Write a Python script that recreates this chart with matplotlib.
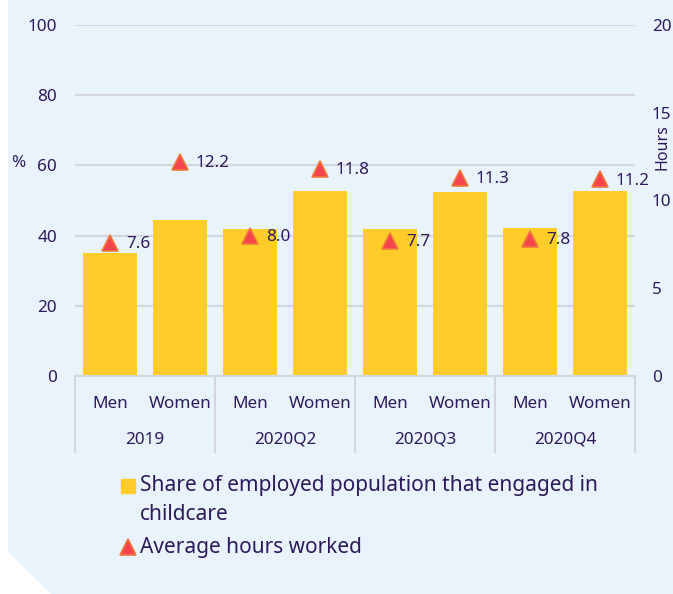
import matplotlib
matplotlib.use("Agg")
import matplotlib.pyplot as plt
from matplotlib.patches import Polygon
from matplotlib.lines import Line2D
import numpy as np

plt.rcParams['font.family'] = ['Noto Sans', 'DejaVu Sans']

periods = ["2019", "2020Q2", "2020Q3", "2020Q4"]
sexes = ["Men", "Women"]
share_childcare = [35.0, 44.5, 42.0, 52.8, 42.0, 52.3, 42.3, 52.6]
avg_hours = [7.6, 12.2, 8.0, 11.8, 7.7, 11.3, 7.8, 11.2]
left_ticks = [0, 20, 40, 60, 80, 100]
right_ticks = [0, 5, 10, 15, 20]
legend_labels = ["Share of employed population that engaged in\nchildcare", "Average hours worked"]

TXT = "#2B1A5C"
BAR = "#FFCC29"
TRI = "#F4444E"
TRI_EDGE = "#F0793A"
BG = "#E9F3FC"
GRID = "#D3D7DC"
FS = 12.3

W, H = 673, 594
fig = plt.figure(figsize=(W / 100, H / 100), dpi=100, facecolor="white")

# background panel with cut corner
bg = Polygon([(8 / W, 1), (1, 1), (1, 0), (51 / W, 0), (8 / W, 1 - 552 / H)],
             closed=True, transform=fig.transFigure, facecolor=BG, edgecolor="none", zorder=-10)
fig.patches.append(bg)

x0, x1 = 75 / W, 635 / W
y_top, y_bot = 1 - 25 / H, 1 - 376 / H
ax = fig.add_axes([x0, y_bot, x1 - x0, y_top - y_bot])
ax.set_facecolor("none")
n = len(share_childcare)
x = np.arange(n)
ax.bar(x, share_childcare, width=0.77, color=BAR, zorder=2)
ax.set_xlim(-0.5, n - 0.5)
ax.set_ylim(0, 100)
ax.set_yticks(left_ticks)
ax.yaxis.grid(True, color=GRID, lw=1.5, zorder=0)
ax.set_axisbelow(True)
for s in ["top", "right", "left"]:
    ax.spines[s].set_visible(False)
ax.spines["bottom"].set_color(GRID)
ax.spines["bottom"].set_linewidth(1.5)
ax.tick_params(axis="y", length=0, pad=13, labelsize=FS, labelcolor=TXT)
ax.set_xticks([])

ax2 = ax.twinx()
ax2.set_ylim(0, 20)
ax2.set_yticks(right_ticks)
for s in ax2.spines.values():
    s.set_visible(False)
ax2.tick_params(axis="y", length=0, pad=12, labelsize=FS, labelcolor=TXT)
ax2.plot(x, avg_hours, ls="none", marker="^", ms=11, mfc=TRI, mec=TRI_EDGE, mew=1.2, zorder=3)
for xi, v in zip(x, avg_hours):
    ax2.annotate(f"{v:.1f}", (xi, v), xytext=(11.5, -1), textcoords="offset points",
                 ha="left", va="center", fontsize=FS, color=TXT)

# category labels
trans = ax.get_xaxis_transform()
px = 1 / ((y_top - y_bot) * H)  # axes fraction per pixel
for i in range(n):
    ax.text(i, -28 * px, sexes[i % 2], transform=trans, ha="center", va="center",
            fontsize=FS, color=TXT)
for g, p in enumerate(periods):
    ax.text(2 * g + 0.5, -64 * px, p, transform=trans, ha="center", va="center",
            fontsize=FS, color=TXT)
for g in range(len(periods) + 1):
    ax.add_line(Line2D([2 * g - 0.5, 2 * g - 0.5], [0, -76 * px], transform=trans,
                       color=GRID, lw=1.5, clip_on=False))

fig.text(18 / W, 1 - 163 / H, "%", ha="center", va="center", fontsize=FS, color=TXT)
fig.text(663 / W, 1 - 147 / H, "Hours", ha="center", va="center", rotation=90,
         fontsize=11.5, color=TXT)

# legend (manual, to keep marker aligned with first line)
fig.add_artist(Line2D([128 / W], [1 - 486 / H], ls="none", marker="s", ms=10, color=BAR,
                      transform=fig.transFigure))
fig.text(140 / W, 1 - 475 / H, legend_labels[0], ha="left", va="top", fontsize=15,
         color=TXT, linespacing=1.5)
fig.add_artist(Line2D([128 / W], [1 - 547 / H], ls="none", marker="^", ms=11, mfc=TRI,
                      mec=TRI_EDGE, mew=1.2, transform=fig.transFigure))
fig.text(140 / W, 1 - 547 / H, legend_labels[1], ha="left", va="center", fontsize=15,
         color=TXT)

fig.savefig("out.png", dpi=100, facecolor="white")
